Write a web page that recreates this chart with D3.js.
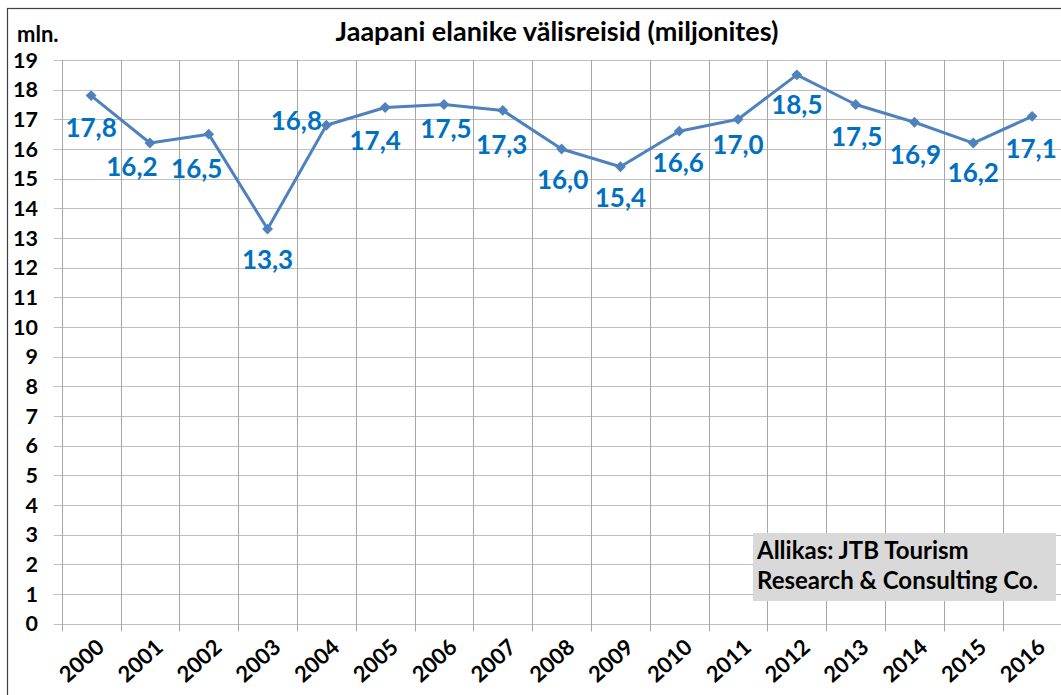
<!DOCTYPE html>
<html><head><meta charset="utf-8">
<script src="https://cdn.jsdelivr.net/npm/d3@7"></script>
<style>body{margin:0;background:#fff;}svg{display:block;font-family:Lato,"Open Sans",sans-serif;}</style>
</head><body>
<svg id="c" width="1061" height="695"></svg>
<script>
const years = ["2000","2001","2002","2003","2004","2005","2006","2007","2008","2009","2010","2011","2012","2013","2014","2015","2016"];
const values = [17.8,16.2,16.5,13.3,16.8,17.4,17.5,17.3,16.0,15.4,16.6,17.0,18.5,17.5,16.9,16.2,17.1];
const yTicks = [0,1,2,3,4,5,6,7,8,9,10,11,12,13,14,15,16,17,18,19];
const title = "Jaapani elanike välisreisid (miljonites)";
const unitLabel = "mln.";
const sourceLines = ["Allikas: JTB Tourism","Research & Consulting Co."];
// label offsets (px) relative to each point, as placed in the original
const labelDx = [0,-18,-12,0,-30,-10,2,-1,1,0,-1,0,0,1,1,0,-1];
const labelDy = [32,24,34,31,-5,33,24,34,31,31,31,25,30,32,32,30,32];

const svg = d3.select("#c");
const m = {l:61.7, r:1061.5, t:60, b:623.5};
const x = d3.scaleBand().domain(years).range([m.l, m.r]).padding(0);
const y = d3.scaleLinear().domain([0,19]).range([m.b, m.t]);

// outer border
svg.append("rect").attr("x",7.5).attr("y",8.5).attr("width",1100).attr("height",800)
  .attr("fill","none").attr("stroke","#404040").attr("stroke-width",1.2);

// horizontal gridlines
svg.append("g").selectAll("line").data(yTicks).join("line")
  .attr("x1",m.l-8).attr("x2",m.r).attr("y1",d=>Math.round(y(d))+0.5).attr("y2",d=>Math.round(y(d))+0.5)
  .attr("stroke","#BFBFBF").attr("stroke-width",1);
// vertical gridlines at category boundaries
const bounds = years.map(d=>x(d)).concat([m.r]);
svg.append("g").selectAll("line").data(bounds).join("line")
  .attr("x1",d=>Math.round(d)+0.5).attr("x2",d=>Math.round(d)+0.5).attr("y1",m.t).attr("y2",m.b+8)
  .attr("stroke","#A6A6A6").attr("stroke-width",1);

// y axis labels
svg.append("g").selectAll("text").data(yTicks).join("text")
  .attr("x",38).attr("y",d=>y(d)).attr("dy","0.36em").attr("text-anchor","end")
  .attr("font-size",21.5).attr("font-weight","bold").attr("fill","#000").text(d=>d);

// x axis labels
svg.append("g").selectAll("text").data(years).join("text")
  .attr("transform",d=>`translate(${x(d)+x.bandwidth()/2+4},${m.b+14}) rotate(-42)`)
  .attr("text-anchor","end").attr("dy","0.72em")
  .attr("font-size",22).attr("font-weight","bold").attr("fill","#000").text(d=>d);

// title and unit
svg.append("text").attr("x",557).attr("y",41).attr("text-anchor","middle")
  .attr("font-size",27).attr("font-weight","bold").attr("fill","#000").text(title);
svg.append("text").attr("x",17).attr("y",42)
  .attr("font-size",22).attr("font-weight","bold").attr("fill","#000").text(unitLabel);

// line
const cx = d=>x(d)+x.bandwidth()/2;
const pts = years.map((d,i)=>[cx(d), y(values[i])]);
svg.append("path").datum(pts).attr("d",d3.line())
  .attr("fill","none").attr("stroke","#4F81BD").attr("stroke-width",3).attr("stroke-linejoin","round");
svg.append("g").selectAll("path").data(pts).join("path")
  .attr("d",d3.symbol(d3.symbolDiamond2,75)())
  .attr("transform",d=>`translate(${d[0]},${d[1]})`).attr("fill","#4F81BD");

// value labels
const fmt = v => v.toFixed(1).replace(".",",");
svg.append("g").selectAll("text").data(years).join("text")
  .attr("x",(d,i)=>cx(d)+labelDx[i]).attr("y",(d,i)=>y(values[i])+labelDy[i])
  .attr("dy","0.36em").attr("text-anchor","middle")
  .attr("font-size",26).attr("font-weight","bold").attr("fill","#0070C0")
  .text((d,i)=>fmt(values[i]));

// source box
svg.append("rect").attr("x",753).attr("y",533).attr("width",303).attr("height",68).attr("fill","#D9D9D9");
svg.append("g").selectAll("text").data(sourceLines).join("text")
  .attr("x",757).attr("y",(d,i)=>559+i*30)
  .attr("font-size",24).attr("font-weight","bold").attr("fill","#000").text(d=>d);
</script>
</body></html>
